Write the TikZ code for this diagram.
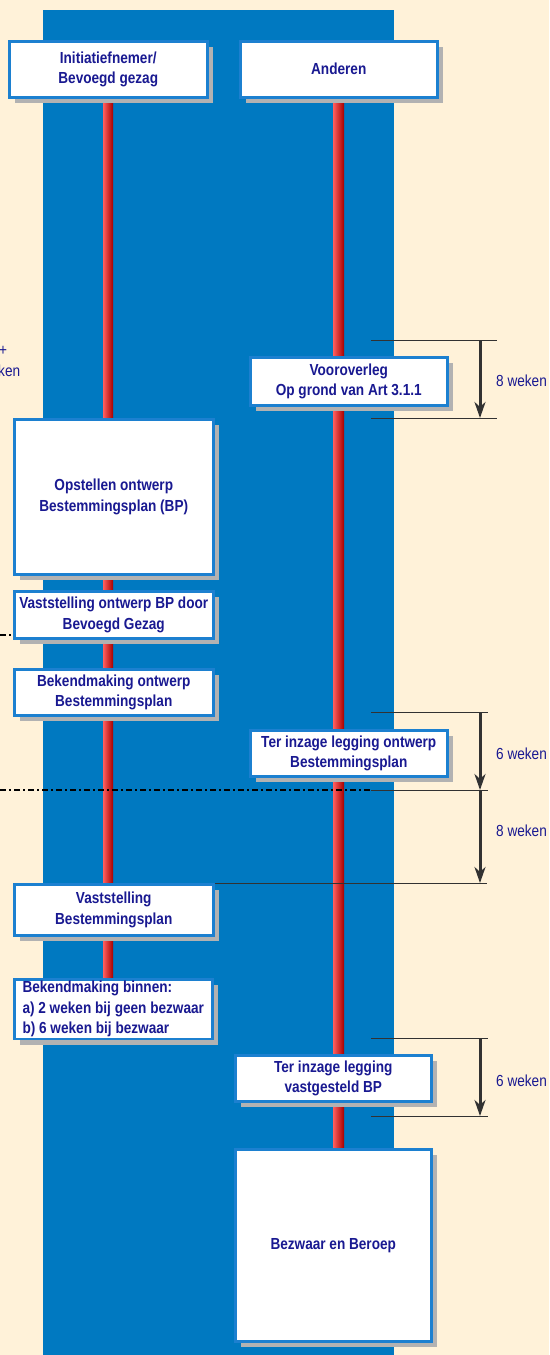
\documentclass[tikz,border=0pt]{standalone}
\usepackage{fontspec}
\setmainfont{Liberation Sans}[FakeStretch=0.85]
\usetikzlibrary{arrows.meta,shadows,calc}
\definecolor{cream}{RGB}{255,242,217}
\definecolor{panel}{RGB}{0,121,193}
\definecolor{boxline}{RGB}{28,128,208}
\definecolor{txt}{RGB}{25,25,145}
\definecolor{shadowg}{RGB}{178,178,178}
\definecolor{dimc}{RGB}{50,50,50}
\definecolor{redL}{RGB}{255,95,95}
\definecolor{redM}{RGB}{250,10,10}
\definecolor{redD}{RGB}{165,0,0}
\begin{document}
\begin{tikzpicture}[x=1pt,y=-1pt,
  box/.style={draw=boxline, line width=2.5pt, fill=white, anchor=north west,
    inner sep=2pt, align=center, text=txt,
    font=\fontsize{16}{20.5}\selectfont\bfseries,
    drop shadow={shadow xshift=6pt, shadow yshift=-6pt, opacity=1, fill=shadowg}},
  lbl/.style={text=txt, inner sep=0pt, font=\fontsize{16}{20}\selectfont},
  redline/.style={left color=redL, middle color=redM, right color=redD},
  tick/.style={draw=dimc, line width=1pt},
  dimarrow/.style={draw=dimc, line width=3pt, -{Stealth[length=16pt,width=11pt,inset=5pt]}},
  dashdot/.style={draw=black, line width=1.5pt, dash pattern=on 6pt off 3pt on 2pt off 3pt}
]
% background
\fill[cream] (0,0) rectangle (549,1355);
\useasboundingbox (0,0) rectangle (549,1355);
\fill[panel] (43,10) rectangle (394,1355);

% red life lines
\coordinate (rl1a) at (103,96);
\coordinate (rl1b) at (113,980);
\coordinate (rl2a) at (333,96);
\coordinate (rl2b) at (344,1148);
\shade[redline] (rl1a) rectangle (rl1b);
\shade[redline] (rl2a) rectangle (rl2b);

% boxes
\node[box, minimum width=198pt, minimum height=56pt] (h1) at (8,40) {Initiatiefnemer/\\Bevoegd gezag};
\node[box, minimum width=197pt, minimum height=56pt] (h2) at (239,40) {Anderen};
\node[box, minimum width=197pt, minimum height=48pt] (voo) at (249,356) {Vooroverleg\\Op grond van Art 3.1.1};
\node[box, minimum width=199pt, minimum height=155pt] (ops) at (13,418) {Opstellen ontwerp\\Bestemmingsplan (BP)};
\node[box, minimum width=199pt, minimum height=47pt] (vod) at (13,590) {Vaststelling ontwerp BP door\\Bevoegd Gezag};
\node[box, minimum width=199pt, minimum height=46pt] (bko) at (13,668) {Bekendmaking ontwerp\\Bestemmingsplan};
\node[box, minimum width=197pt, minimum height=46pt] (tio) at (249,729) {Ter inzage legging ontwerp\\Bestemmingsplan};
\node[box, minimum width=199pt, minimum height=51pt] (vbp) at (13,883) {Vaststelling\\Bestemmingsplan};
\node[box, minimum width=198pt, minimum height=59pt, align=left] (bkb) at (13,978) {Bekendmaking binnen:\\a) 2 weken bij geen bezwaar\\b) 6 weken bij bezwaar};
\node[box, minimum width=196pt, minimum height=46pt] (tiv) at (234,1054) {Ter inzage legging\\vastgesteld BP};
\node[box, minimum width=196pt, minimum height=192pt] (bez) at (234,1148) {Bezwaar en Beroep};

% dash-dot lines
\coordinate (dl1) at (0,635);
\draw[dashdot] (dl1) -- (dl1 -| vod.west);
\coordinate (dl2) at (0,790);
\coordinate (dl2m) at (371,790);
\coordinate (dl2r) at (488,790);
\draw[dashdot] (dl2) -- (dl2m);
\draw[tick] (dl2m) -- (dl2r);

% dimension ticks
\coordinate (t1a) at (371,340); \coordinate (t1b) at (497,340);
\coordinate (t2a) at (371,418); \coordinate (t2b) at (497,418);
\coordinate (t3a) at (371,712); \coordinate (t3b) at (488,712);
\coordinate (t4a) at (vbp.north east); \coordinate (t4b) at (487,883);
\coordinate (t5a) at (371,1038); \coordinate (t5b) at (488,1038);
\coordinate (t6a) at (371,1116); \coordinate (t6b) at (488,1116);
\draw[tick] (t1a) -- (t1b);
\draw[tick] (t2a) -- (t2b);
\draw[tick] (t3a) -- (t3b);
\draw[tick] (t4a |- t4b) -- (t4b);
\draw[tick] (t5a) -- (t5b);
\draw[tick] (t6a) -- (t6b);

% arrows
\coordinate (a1) at (480,340); \coordinate (a2) at (480,418);
\coordinate (a3) at (480,712); \coordinate (a4) at (480,790);
\coordinate (a5) at (480,883);
\coordinate (a6) at (480,1038); \coordinate (a7) at (480,1116);
\draw[dimarrow] (a1) -- (a2);
\draw[dimarrow] (a3) -- (a4);
\draw[dimarrow] (a4) -- (a5);
\draw[dimarrow] (a6) -- (a7);

% labels
\node[lbl, anchor=west] (w1) at (496,381) {8 weken};
\node[lbl, anchor=west] (w2) at (496,754) {6 weken};
\node[lbl, anchor=west] (w3) at (496,831) {8 weken};
\node[lbl, anchor=west] (w4) at (496,1081) {6 weken};

% partial texts at left edge
\node[lbl, anchor=west] (p1) at (-1,351) {+};
\node[lbl, anchor=west] (p2) at (-2,371) {ken};
\end{tikzpicture}
\end{document}
